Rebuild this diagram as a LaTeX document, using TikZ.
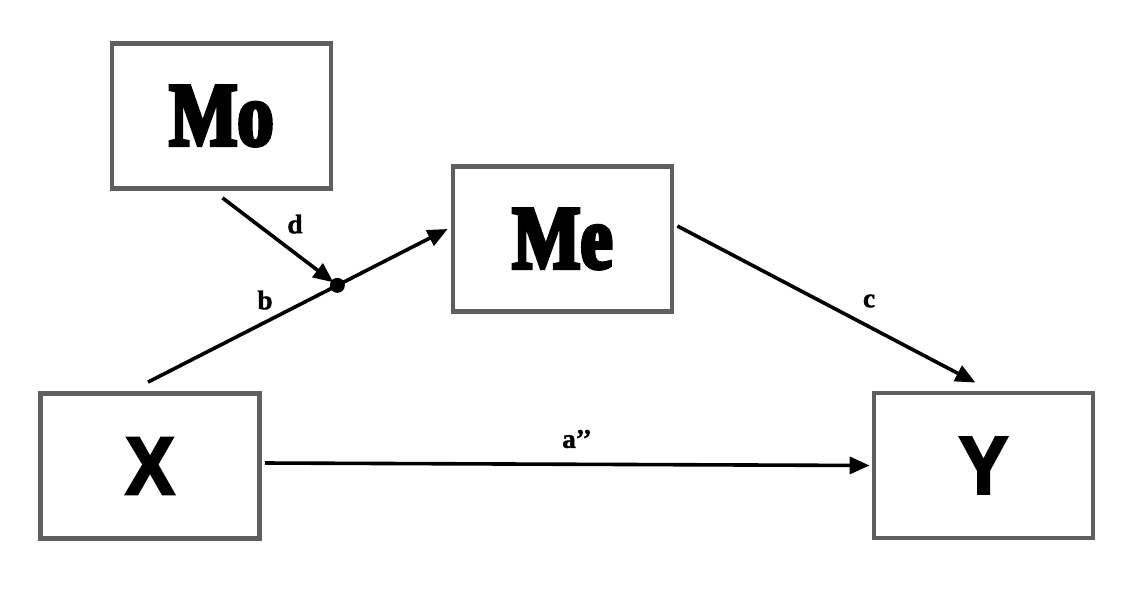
\documentclass[tikz,border=0pt]{standalone}
\usepackage{fontspec}
\setmainfont{Liberation Serif}
\newfontfamily\bigserif[FakeStretch=0.8,FakeBold=4.5]{Liberation Serif}
\newfontfamily\bigsans[FakeStretch=0.9,FakeBold=3]{Liberation Sans}
\newfontfamily\lblfont[FakeBold=1.5,Ligatures=TeX]{Liberation Serif}
\usetikzlibrary{arrows.meta,calc}
\begin{document}
\begin{tikzpicture}[x=1pt,y=-1pt,
  box/.style={draw=boxgray,line width=4.8pt,fill=white,minimum width=219pt,minimum height=145pt,inner sep=0pt},
  serifbig/.style={font=\bigserif\bfseries\fontsize{90}{92}\selectfont},
  sansbig/.style={font=\bigsans\bfseries\fontsize{82}{84}\selectfont},
  arr/.style={line width=3.6pt,-{Triangle[length=20pt,width=17pt]}},
  lbl/.style={font=\lblfont\bfseries\fontsize{27}{29}\selectfont,inner sep=0pt}]
\definecolor{boxgray}{HTML}{5F5F5F}
\useasboundingbox[fill=white] (0,0) rectangle (1134,598);
\node[box,serifbig] (Mo) at (221.5,116) {Mo};
\node[box,serifbig] (Me) at (562.5,239) {Me};
\node[box,sansbig] (X) at (150,466) {X};
\node[box,sansbig] (Y) at (983.5,465.5) {Y};
\coordinate (bstart) at ($(X.north)+(-2,-9)$);
\coordinate (bend) at ($(Me.west)+(-3,-10)$);
\coordinate (dstart) at ($(Mo.south)+(1,7)$);
\coordinate (cstart) at ($(Me.east)+(3,-13)$);
\coordinate (cend) at ($(Y.north)+(-8,-8)$);
\coordinate (astart) at ($(X.east)+(3,-3)$);
\coordinate (aend) at ($(Y.west)+(-2,0)$);
\draw[arr] (bstart) -- node[pos=0.632,circle,fill=black,inner sep=0pt,minimum size=15pt] (dot) {} (bend);
\draw[arr,shorten >=5pt] (dstart) -- (dot.center);
\draw[arr] (cstart) -- (cend);
\draw[arr] (astart) -- (aend);
\node[lbl] (ld) at (295,224) {d};
\node[lbl] (lb) at (265,300) {b};
\node[lbl] (lc) at (869,301) {c};
\node[lbl] (la) at (577,439) {a’’};
\end{tikzpicture}
\end{document}
